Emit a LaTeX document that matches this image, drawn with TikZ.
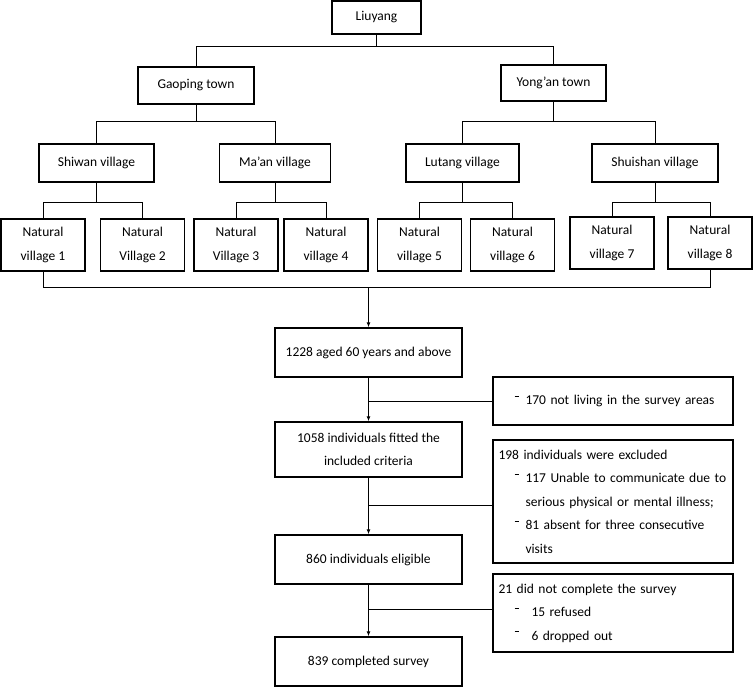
\documentclass[tikz,border=0pt]{standalone}
\usepackage{fontspec}
\setmainfont{Carlito}
\usepackage{tikz}
\usetikzlibrary{arrows.meta,positioning,calc}
\definecolor{inkblack}{RGB}{0,0,0}
\newcommand{\dashmark}{\rule[0.62em]{4pt}{0.6pt}}
\tikzset{
  base/.style={font=\fontsize{13.5}{23.5}\selectfont, align=center, inner sep=2pt, text=inkblack},
  box/.style={base, rectangle, draw=inkblack, fill=white, line width=1.4pt},
  unit/.style={box, minimum height=37pt},
  nat/.style={box, minimum width=84pt, minimum height=52pt},
  flow/.style={box, minimum width=187pt, minimum height=49pt},
  excl/.style={box, minimum width=240pt, text width=229pt, inner xsep=5.5pt, align=left},
  link/.style={line width=1pt, draw=inkblack},
  arr/.style={link, -{Latex[length=5pt,width=4pt]}},
}

\begin{document}
\begin{tikzpicture}[x=1pt,y=-1pt]
  \useasboundingbox (0,0) rectangle (753,687);
  % sampling tree
  \node[box,minimum width=89pt,minimum height=33pt] (liuyang) at (376.5,17.5) {Liuyang};
  \node[unit,minimum width=116pt] (gaoping) at (196,85.5)  {Gaoping town};
  \node[unit,minimum width=105pt,minimum height=36pt] (yongan) at (553.5,83) {Yong’an town};
  \node[unit,minimum width=115pt,minimum height=38pt] (shiwan) at (96.5,163) {Shiwan village};
  \node[unit,minimum width=111pt,minimum height=38pt] (maan) at (275,163)    {Ma’an village};
  \node[unit,minimum width=113pt,minimum height=38pt] (lutang) at (462.5,163) {Lutang village};
  \node[unit,minimum width=126pt,minimum height=38pt] (shuishan) at (655,163) {Shuishan village};
  \node[nat] (nv1) at (43,245)    {Natural\\village 1};
  \node[nat] (nv2) at (142.5,245) {Natural\\Village 2};
  \node[nat] (nv3) at (236,245)   {Natural\\Village 3};
  \node[nat] (nv4) at (326,245)   {Natural\\village 4};
  \node[nat] (nv5) at (419.5,245) {Natural\\village 5};
  \node[nat] (nv6) at (512.5,245) {Natural\\village 6};
  \node[nat] (nv7) at (612,243)   {Natural\\village 7};
  \node[nat] (nv8) at (710,243)   {Natural\\village 8};
  \foreach \p/\c/\y in {liuyang/gaoping/47,liuyang/yongan/47,gaoping/shiwan/122,gaoping/maan/122,yongan/lutang/122,yongan/shuishan/122,shiwan/nv1/203,shiwan/nv2/203,maan/nv3/203,maan/nv4/203,lutang/nv5/203,lutang/nv6/203,shuishan/nv7/203,shuishan/nv8/203}{
    \coordinate (lvl) at (0,\y);
    \draw[link] (\p.south) -- (\p.south |- lvl) -| (\c.north);
  }
  % participant flow
  \node[flow] (b1228) at (368.5,352.5) {1228 aged 60 years and above};
  \node[flow,minimum height=55pt] (b1058) at (368.5,449.5) {1058 individuals fitted the\\included criteria};
  \node[flow] (b860) at (368.5,559.5) {860 individuals eligible};
  \node[flow] (b839) at (368.5,661.5) {839 completed survey};
  \node[excl,minimum height=48pt] (e170) at (613,401) {\hspace*{16pt}\dashmark\hspace*{7pt}170 not living in the survey areas};
  \node[excl,minimum height=123pt] (e198) at (613,501.5) {198 individuals were excluded\\
    \hspace*{16pt}\dashmark\hspace*{7pt}117 Unable to communicate due to\\
    \hspace*{27pt}serious physical or mental illness;\\
    \hspace*{16pt}\dashmark\hspace*{7pt}81 absent for three consecutive\\
    \hspace*{27pt}visits};
  \node[excl,minimum height=78pt] (e21) at (613,613) {21 did not complete the survey\\
    \hspace*{16pt}\dashmark\hspace*{13pt}15 refused\\
    \hspace*{16pt}\dashmark\hspace*{13pt}6 dropped out};
  \coordinate (gather) at (0,288);
  \draw[link] (nv1.south) -- (nv1.south |- gather) -| (nv8.south);
  \draw[arr] (b1228.north |- gather) -- (b1228.north);
  \foreach \a/\b in {b1228/b1058,b1058/b860,b860/b839}{\draw[arr] (\a) -- (\b);}
  \draw[link] (e170.west) -- (e170.west -| b1228.south);
  \draw[link] ([yshift=-4pt]e198.west) -- ([yshift=-4pt]e198.west -| b1058.south);
  \draw[link] ([yshift=4pt]e21.west) -- ([yshift=4pt]e21.west -| b860.south);
\end{tikzpicture}
\end{document}
